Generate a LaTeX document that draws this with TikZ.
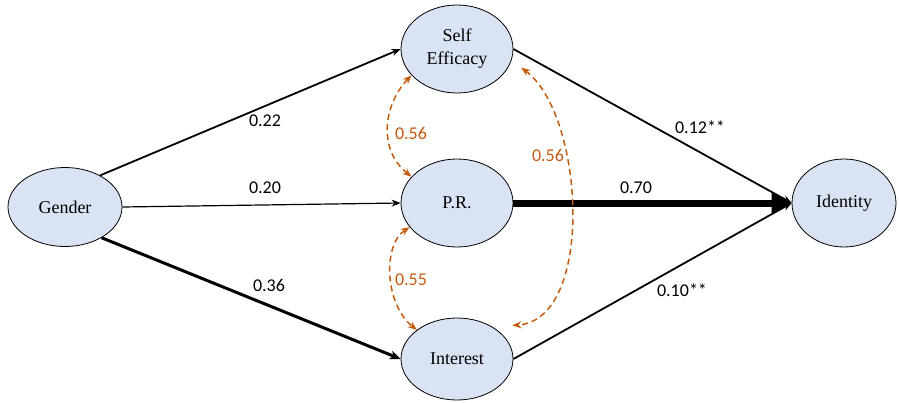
\documentclass[tikz,border=0pt]{standalone}
\usepackage{fontspec}
\setmainfont{Liberation Serif}
\newfontfamily\numfont{Carlito}
\usetikzlibrary{shapes.geometric,arrows.meta}
\definecolor{nodefill}{HTML}{DAE3F3}
\definecolor{corr}{HTML}{C55A11}
\begin{document}
\begin{tikzpicture}[x=1pt,y=-1pt,
  var/.style={ellipse,draw=black,line width=0.8pt,fill=nodefill,
    minimum width=112pt,minimum height=88pt,inner sep=0pt,align=center,
    font=\fontsize{18}{23}\selectfont},
  effect/.style={draw=black,-{Stealth[length=9pt,width=7pt]}},
  coef/.style={font=\numfont\fontsize{18}{20}\selectfont,inner sep=0pt},
  cov/.style={draw=corr,line width=1.5pt,dash pattern=on 6pt off 4pt,
    {Stealth[length=9pt,width=7pt]}-{Stealth[length=9pt,width=7pt]}},
  covlab/.style={coef,text=corr}]
\useasboundingbox (0,0) rectangle (899,402);

% variables
\node[var,minimum width=114pt,minimum height=79pt] (gender) at (65,207) {Gender};
\node[var] (se) at (457,49) {Self\\Efficacy};
\node[var] (pr) at (457,203) {P.R.};
\node[var,minimum height=82pt] (int) at (457,359) {Interest};
\node[var,minimum width=104pt] (id) at (844,203) {Identity};

% structural paths
\draw[effect,line width=1.8pt] (gender.42) -- (se.west);
\draw[effect,line width=1.2pt] (gender.east) -- (pr.west);
\draw[effect,line width=3pt,-{Stealth[length=11pt,width=9pt]}] (gender.-40) -- (int.west);
\draw[effect,line width=1.8pt] (se.east) -- (id.west);
\draw[effect,line width=7pt,-{Triangle[length=20pt,width=22pt]}] (pr.east) -- (id.west);
\draw[effect,line width=1.8pt] (int.east) -- (id.west);

% correlations among mediators
\draw[cov] (se.210) .. controls (383,105) and (378,150) .. (pr.150);
\draw[cov] (pr.207) .. controls (382,245) and (385,305) .. (int.144);
\draw[cov] ([xshift=13pt]se.-20) .. controls (585,115) and (595,320) .. ([xshift=11pt,yshift=8pt]int.30);

% coefficients
\node[coef] (c1) at (265,121) {0.22};
\node[coef] (c2) at (265,188) {0.20};
\node[coef] (c3) at (269,285) {0.36};
\node[coef] (c4) at (636,188) {0.70};
\node[coef] (c5) at (700,127) {0.12**};
\node[coef] (c6) at (682,290) {0.10**};
\node[covlab] (r1) at (411,133) {0.56};
\node[covlab] (r2) at (548,155) {0.56};
\node[covlab] (r3) at (411,280) {0.55};
\end{tikzpicture}
\end{document}
